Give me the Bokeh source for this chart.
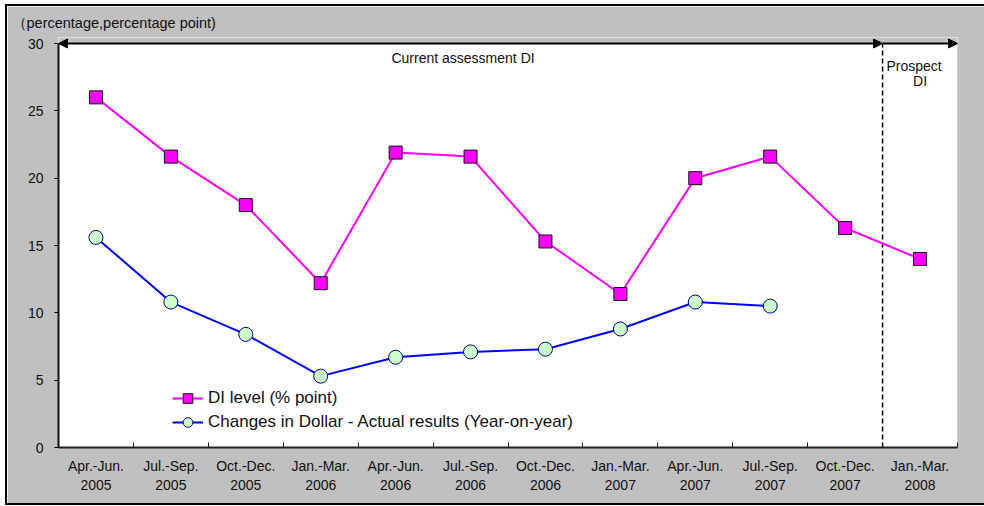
from bokeh.plotting import figure
from bokeh.models import (Range1d, FixedTicker, Legend, LegendItem, Label,
                          Arrow, NormalHead, BoxAnnotation, ColumnDataSource)
from bokeh.embed import file_html
from bokeh.resources import INLINE

# ---------------- data ----------------
quarters = ["Apr.-Jun.\n2005", "Jul.-Sep.\n2005", "Oct.-Dec.\n2005", "Jan.-Mar.\n2006",
            "Apr.-Jun.\n2006", "Jul.-Sep.\n2006", "Oct.-Dec.\n2006", "Jan.-Mar.\n2007",
            "Apr.-Jun.\n2007", "Jul.-Sep.\n2007", "Oct.-Dec.\n2007", "Jan.-Mar.\n2008"]
di_level = [26.0, 21.6, 18.0, 12.2, 21.9, 21.6, 15.3, 11.4, 20.0, 21.6, 16.3, 14.0]
dollar_changes = [15.6, 10.8, 8.4, 5.3, 6.7, 7.1, 7.3, 8.8, 10.8, 10.5]
y_ticks = [0, 5, 10, 15, 20, 25, 30]
current_quarters = 11   # number of quarters in the current assessment period
series_names = ["DI level (% point)", "Changes in Dollar - Actual results (Year-on-year)"]
unit_caption = "（percentage,percentage point)"

FONT = "Liberation Sans"
GRAY = "#C0C0C0"

n = len(quarters)
centers = [i + 0.5 for i in range(n)]
bounds = list(range(n + 1))
y_lo, y_hi = y_ticks[0], y_ticks[-1]
# a few pixels of head-room above the top of the value axis so the arrow heads are not clipped
HEADROOM_PX, AXIS_PX = 6, 404
y_top = y_hi + (y_hi - y_lo) * HEADROOM_PX / AXIS_PX

src_di = ColumnDataSource(dict(x=centers, y=di_level))
src_dl = ColumnDataSource(dict(x=centers[:len(dollar_changes)], y=dollar_changes))
src_sep = ColumnDataSource(dict(x=[current_quarters, current_quarters], y=[y_lo, y_hi]))

p = figure(width=977, height=497, output_backend="svg", toolbar_location=None,
           x_range=Range1d(0, n), y_range=Range1d(y_lo, y_top),
           min_border_left=51, min_border_right=27, min_border_top=31, min_border_bottom=56,
           background_fill_color="white", border_fill_color=GRAY)
p.styles = {"position": "relative", "left": "7px", "top": "6px",
            "outline": "2px solid black"}
p.outline_line_color = None
p.grid.visible = False

# gray head-room band above the plotting area and the plot-area border
p.add_layout(BoxAnnotation(bottom=y_hi, fill_color=GRAY, fill_alpha=1,
                           line_color=None, level="underlay"))
p.add_layout(BoxAnnotation(left=0, right=n, bottom=y_lo, top=y_hi, fill_alpha=0,
                           line_color="black", line_width=1, level="underlay"))

# unit caption as title (top-left)
p.title.text = unit_caption
p.title.align = "left"
p.title.vertical_align = "top"
p.title.offset = -47
p.title.standoff = 10
p.title.text_font = FONT
p.title.text_font_size = "14.5px"
p.title.text_font_style = "normal"
p.title.text_color = "#111111"

# x axis
xa = p.xaxis[0]
xa.ticker = FixedTicker(ticks=centers, minor_ticks=bounds)
xa.major_label_overrides = {c: q for c, q in zip(centers, quarters)}
xa.major_tick_in = 0
xa.major_tick_out = 0
xa.minor_tick_in = 5
xa.minor_tick_out = 0
xa.minor_tick_line_color = "#222222"
xa.axis_line_width = 2
xa.axis_line_color = "#222222"
xa.major_label_text_font = FONT
xa.major_label_text_font_size = "14px"
xa.major_label_text_color = "#111111"
xa.major_label_standoff = 10

# y axis
ya = p.yaxis[0]
ya.ticker = FixedTicker(ticks=y_ticks)
ya.bounds = (y_lo, y_hi)
ya.major_tick_in = 0
ya.major_tick_out = 4
ya.minor_tick_line_color = None
ya.axis_line_width = 2
ya.axis_line_color = "#111111"
ya.major_label_text_font = FONT
ya.major_label_text_font_size = "14px"
ya.major_label_text_color = "#111111"
ya.major_label_standoff = 11

# dashed separator between current assessment and prospect
p.line("x", "y", source=src_sep, line_color="black", line_width=1.5, line_dash="5 3")

# lines and markers
l1 = p.line("x", "y", source=src_di, line_color="#FF00FF", line_width=2)
m1 = p.scatter("x", "y", source=src_di, marker="square", size=13,
               fill_color="#FF00FF", line_color="#111111", line_width=1)
l2 = p.line("x", "y", source=src_dl, line_color="#0000FF", line_width=2)
m2 = p.scatter("x", "y", source=src_dl, marker="circle", size=14,
               fill_color="#CCFFCC", line_color="#000080", line_width=1)

# arrows along the top
p.add_layout(Arrow(x_start=0, y_start=y_hi, x_end=current_quarters, y_end=y_hi,
                   line_width=2, line_color="black", level="overlay",
                   start=NormalHead(size=9, fill_color="black", line_color="black"),
                   end=NormalHead(size=9, fill_color="black", line_color="black")))
p.add_layout(Arrow(x_start=current_quarters, y_start=y_hi, x_end=n, y_end=y_hi,
                   line_width=2, line_color="black", level="overlay",
                   end=NormalHead(size=9, fill_color="black", line_color="black")))

p.add_layout(Label(x=5.4, y=28.95, text="Current assessment DI", text_align="center",
                   text_baseline="middle", text_font=FONT, text_font_size="14px",
                   text_color="#111111"))
p.add_layout(Label(x=11.42, y=28.3, text="Prospect", text_align="center",
                   text_baseline="middle", text_font=FONT, text_font_size="14px",
                   text_color="#111111"))
p.add_layout(Label(x=11.5, y=27.2, text="DI", text_align="center",
                   text_baseline="middle", text_font=FONT, text_font_size="14px",
                   text_color="#111111"))

legend = Legend(items=[LegendItem(label=series_names[0], renderers=[l1, m1]),
                       LegendItem(label=series_names[1], renderers=[l2, m2])],
                location=(114, 13), background_fill_alpha=0, border_line_color=None,
                padding=0, margin=0, spacing=0, glyph_width=31, glyph_height=24,
                label_height=24, label_standoff=5, label_text_font=FONT,
                label_text_font_size="17px", label_text_color="#111111")
p.add_layout(legend)

open("out.html", "w").write(file_html(p, INLINE))
